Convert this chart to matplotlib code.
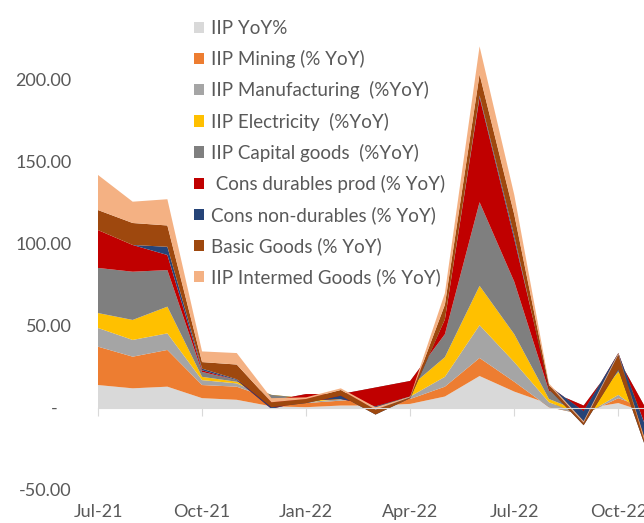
import matplotlib.pyplot as plt
import numpy as np
from matplotlib.patches import Patch

plt.rcParams["font.family"] = ["Lato", "DejaVu Sans"]

# monthly YoY growth, % (last month runs off the right edge)
months = ["Jul-21", "Aug-21", "Sep-21", "Oct-21", "Nov-21", "Dec-21", "Jan-22", "Feb-22", "Mar-22",
          "Apr-22", "May-22", "Jun-22", "Jul-22", "Aug-22", "Sep-22", "Oct-22", "Nov-22"]
tick_labels = ["Jul-21", "Oct-21", "Jan-22", "Apr-22", "Jul-22", "Oct-22"]

iip = [14.0, 12.0, 13.0, 6.0, 5.0, 1.0, 0.5, 1.5, 1.5, 2.5, 7.0, 19.5, 10.0, 2.5, -0.5, 3.0, -4.0]
mining = [23.4, 19.3, 22.4, 8.0, 8.0, 4.5, 2.5, 3.0, 4.5, 3.0, 6.0, 11.0, 6.0, -2.0, -3.5, 3.0, 2.5]
manuf = [11.4, 10.2, 10.1, 3.0, 2.0, 0.5, 0.5, 1.0, 1.0, 1.5, 6.0, 20.0, 12.0, 3.0, -0.5, 2.0, -5.6]
elec = [9.1, 12.2, 16.3, 2.0, 1.0, 2.0, 2.5, 1.0, 4.5, 6.0, 12.0, 24.0, 17.0, 2.0, 1.5, 14.0, 1.2]
capital = [27.5, 29.4, 22.3, 3.0, 1.0, -3.5, 2.5, 2.0, 1.0, 3.5, 14.0, 51.0, 32.0, 5.0, 4.5, 8.0, -2.3]
cons_dur = [23.1, 16.3, 9.2, 1.0, 0.0, -5.0, -4.0, -3.0, -11.5, -9.5, 9.0, 64.0, 26.0, 3.0, -3.5, 3.5, -15.3]
cons_nondur = [0.0, 0.0, 5.0, 1.0, 0.5, 1.0, -1.5, 2.0, -5.0, -1.0, 0.0, 1.0, 2.0, -2.0, -8.5, -10.0, -13.4]
basic = [12.2, 13.4, 13.0, 4.0, 9.0, 3.0, 2.5, 3.5, 3.0, 0.5, 9.0, 13.0, 13.0, 2.5, 1.5, 9.0, 2.0]
intermed = [21.4, 13.0, 16.0, 6.5, 7.0, 2.5, 1.0, 1.0, 1.5, 0.5, 7.0, 17.0, 12.0, 1.0, 1.0, 1.0, -2.8]

names = ["IIP YoY%",
         "IIP Mining (% YoY)",
         "IIP Manufacturing  (%YoY)",
         "IIP Electricity  (%YoY)",
         "IIP Capital goods  (%YoY)",
         " Cons durables prod (% YoY)",
         "Cons non-durables (% YoY)",
         "Basic Goods (% YoY)",
         "IIP Intermed Goods (% YoY)"]
colors = ["#D9D9D9", "#ED7D31", "#A5A5A5", "#FFC000", "#7F7F7F",
          "#C00000", "#264478", "#9E480E", "#F4B183"]

text_grey = "#595959"
axis_grey = "#D9D9D9"

x = np.arange(len(months))
fig = plt.figure(figsize=(6.44, 5.23), dpi=100)
ax = fig.add_axes([98 / 644, 33 / 523, 546 / 644, 492 / 523])

ax.stackplot(x, iip, mining, manuf, elec, capital, cons_dur, cons_nondur, basic, intermed,
             colors=colors, linewidth=0, zorder=2)

ax.set_xlim(0, 15.74)
ax.set_ylim(-50, 250)

# y axis: accounting style labels, no line
ax.set_yticks([-50, 0, 50, 100, 150, 200])
ax.set_yticklabels(["-50.00", "-   ", "50.00", "100.00", "150.00", "200.00"])
ax.tick_params(axis="y", length=0, pad=19, labelsize=13, labelcolor=text_grey)
for side in ["left", "right", "top"]:
    ax.spines[side].set_visible(False)

# x axis line sits at zero, labels sit at the bottom
ax.spines["bottom"].set_position(("data", 0))
ax.spines["bottom"].set_color(axis_grey)
ax.spines["bottom"].set_zorder(5)
ax.set_xticks([0, 3, 6, 9, 12, 15])
ax.tick_params(axis="x", direction="out", length=6, color=axis_grey, labelbottom=False)
for pos, lab in zip([0, 3, 6, 9, 12, 15], tick_labels):
    ax.text(pos, -0.045, lab, transform=ax.get_xaxis_transform(), ha="center", va="center",
            fontsize=13, color=text_grey)

handles = [Patch(facecolor=c, edgecolor="none") for c in colors]
leg = fig.legend(handles, names, loc="upper left", bbox_to_anchor=(194 / 644, 1 - 20 / 523),
                 frameon=False, fontsize=13.5, handlelength=0.55, handleheight=0.55,
                 handletextpad=0.38, labelspacing=0.7, borderpad=0, borderaxespad=0)
for t in leg.get_texts():
    t.set_color(text_grey)
leg.set_zorder(1)

plt.savefig("out.png", dpi=100)
